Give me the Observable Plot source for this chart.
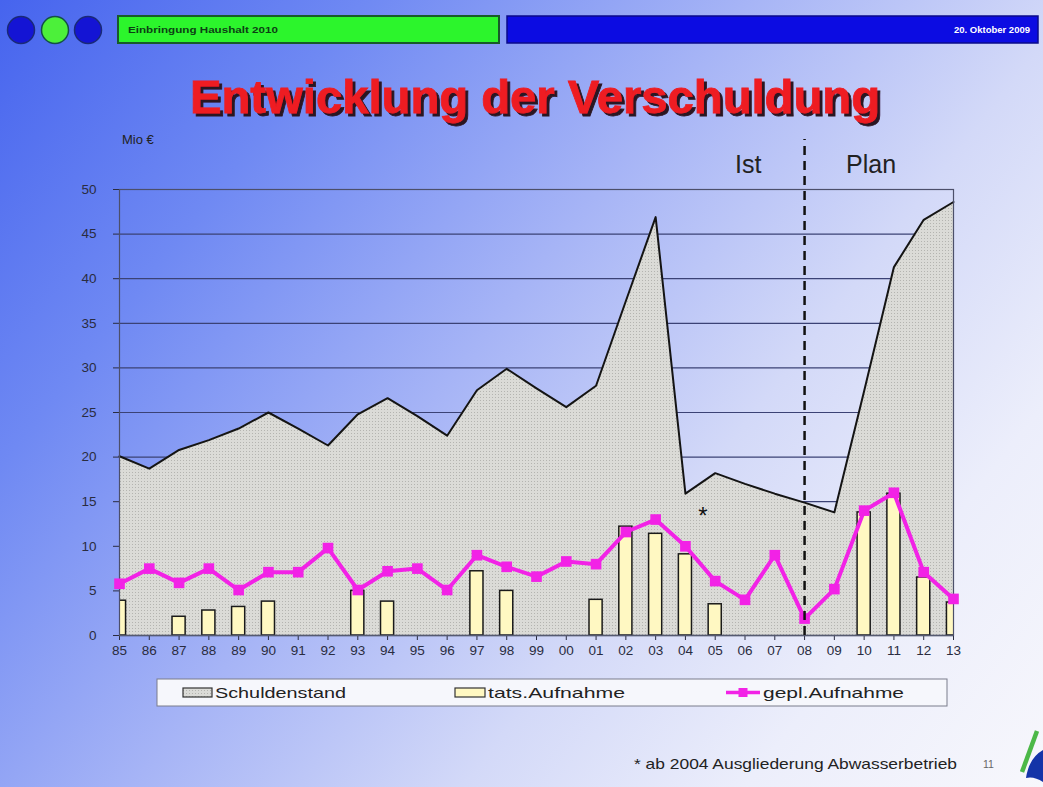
<!DOCTYPE html>
<html>
<head>
<meta charset="utf-8">
<script src="https://cdn.jsdelivr.net/npm/d3@7"></script>
<script src="https://cdn.jsdelivr.net/npm/@observablehq/plot@0.6"></script>
<style>
  html, body { margin: 0; padding: 0; }
  body {
    width: 1043px; height: 787px; overflow: hidden;
    background: linear-gradient(128deg, #4664ee 0%, #6f89f3 22%, #a6b4f6 45%, #d3d9f8 65%, #eceefb 82%, #f7f7fc 100%);
    font-family: "Liberation Sans", Arial, sans-serif;
  }
  #page { position: relative; width: 1043px; height: 787px; }
  #chart { position: absolute; left: 0; top: 130px; }
  #deco { position: absolute; left: 0; top: 0; pointer-events: none; }
</style>
</head>
<body>
<div id="page">
  <div id="chart"></div>
  <svg id="deco" width="1043" height="787" xmlns="http://www.w3.org/2000/svg" font-family="Liberation Sans, Arial, sans-serif">
    <defs>
      <pattern id="dots" width="3" height="3" patternUnits="userSpaceOnUse">
        <rect width="3" height="3" fill="#dbdbd7"></rect>
        <rect width="1" height="1" fill="#b4b4b0"></rect>
      </pattern>
      <filter id="shadow" x="-5%" y="-20%" width="110%" height="150%">
        <feDropShadow dx="3" dy="3" stdDeviation="0.6" flood-color="#2b1424" flood-opacity="1"></feDropShadow>
      </filter>
    </defs>
    <!-- header -->
    <circle cx="21" cy="30" r="13.5" fill="#1414d4" stroke="#1a2a78" stroke-width="1.5"></circle>
    <circle cx="55" cy="30" r="13.5" fill="#4cf03a" stroke="#145048" stroke-width="1.5"></circle>
    <circle cx="88" cy="30" r="13.5" fill="#1414d4" stroke="#1a2a78" stroke-width="1.5"></circle>
    <rect x="118" y="16" width="381" height="27" fill="#2cf52c" stroke="#185a2a" stroke-width="2"></rect>
    <text x="128" y="33" font-size="9.5" font-weight="bold" fill="#0c3f14" textLength="150" lengthAdjust="spacingAndGlyphs">Einbringung Haushalt 2010</text>
    <rect x="507" y="16" width="531" height="27" fill="#0c0ce2" stroke="#0a0a8a" stroke-width="1.5"></rect>
    <text x="1030" y="33" font-size="9.5" font-weight="bold" fill="#ffffff" text-anchor="end">20. Oktober 2009</text>
    <!-- title -->
    <text x="535" y="113" font-size="46" font-weight="bold" fill="#ee1c24" text-anchor="middle" textLength="690" lengthAdjust="spacingAndGlyphs" filter="url(#shadow)" stroke="#ee1c24" stroke-width="0.8">Entwicklung der Verschuldung</text>
    <!-- labels -->
    <text x="122" y="144" font-size="13" fill="#222">Mio €</text>
    <text x="735" y="173" font-size="25" fill="#222">Ist</text>
    <text x="846" y="173" font-size="25" fill="#222">Plan</text>
    <text x="703" y="524" font-size="24" fill="#111" text-anchor="middle">*</text>
    <!-- legend -->
    <g id="legend"></g>
    <!-- footnote -->
    <text x="634" y="769" font-size="14.5" fill="#222" textLength="323" lengthAdjust="spacingAndGlyphs">* ab 2004 Ausgliederung Abwasserbetrieb</text>
    <text x="983" y="768" font-size="10.5" fill="#666">11</text>
    <!-- logo -->
    <path d="M1026,778 Q1029,758 1043,750 L1043,782 Q1034,776 1026,778 Z" fill="#1434a8"></path>
    <line x1="1022" y1="772" x2="1037" y2="731" stroke="#4cb848" stroke-width="4.5"></line>
  </svg>
</div>
<script>
// ---- data ----
const years = ["85","86","87","88","89","90","91","92","93","94","95","96","97","98","99",
               "00","01","02","03","04","05","06","07","08","09","10","11","12","13"];
const schuldenstand = [20.1, 18.7, 20.8, 21.9, 23.2, 25.0, 23.2, 21.3, 24.8, 26.6, 24.6, 22.4, 27.5, 29.9, 27.7,
                       25.6, 28.0, 37.5, 46.9, 15.9, 18.2, 17.0, 15.9, 14.9, 13.8, 27.4, 41.3, 46.6, 48.6];
const tatsAufnahme = [3.9, null, 2.1, 2.8, 3.2, 3.8, null, null, 5.0, 3.8, null, null, 7.2, 5.0, null,
                      null, 4.0, 12.2, 11.4, 9.1, 3.5, null, null, null, null, 13.8, 15.9, 6.5, 3.7];
const geplAufnahme = [5.8, 7.5, 5.9, 7.5, 5.1, 7.1, 7.1, 9.8, 5.1, 7.2, 7.5, 5.1, 9.0, 7.7, 6.6,
                      8.3, 8.0, 11.6, 13.0, 10.0, 6.1, 4.0, 9.0, 1.9, 5.2, 14.0, 16.0, 7.1, 4.1];
const yTicks = [0, 5, 10, 15, 20, 25, 30, 35, 40, 45, 50];
const seriesNames = ["Schuldenstand", "tats.Aufnahme", "gepl.Aufnahme"];
const splitYear = "08";

const rows = years.map((year, i) => ({i, year, schuld: schuldenstand[i], tats: tatsAufnahme[i], gepl: geplAufnahme[i]}));
const bars = rows.filter(d => d.tats != null);

const MAGENTA = "#f222e6";

const chart = Plot.plot({
  width: 1043,
  height: 540,
  marginLeft: 119,
  marginRight: 90,
  marginTop: 59,
  marginBottom: 35,
  style: {
    background: "transparent",
    overflow: "visible",
    fontSize: "13.5px",
    fontFamily: "Liberation Sans, Arial, sans-serif",
    color: "#2a2c40"
  },
  x: {
    domain: [0, years.length - 1],
    ticks: d3.range(years.length),
    tickFormat: i => years[i],
    tickSize: 5,
    tickPadding: 5,
    label: null
  },
  y: {
    domain: [0, 50],
    ticks: yTicks,
    tickSize: 6,
    tickPadding: 17,
    label: null
  },
  marks: [
    Plot.ruleY(yTicks.filter(v => v > 0), {stroke: "#3b4275", strokeWidth: 1.2}),
    Plot.areaY(rows, {x: "i", y: "schuld", fill: "url(#dots)"}),
    Plot.lineY(rows, {x: "i", y: "schuld", stroke: "#141414", strokeWidth: 2}),
    Plot.rectY(bars, {x1: d => d.i - 0.22, x2: d => d.i + 0.22, y: "tats", fill: "#fff8c2", stroke: "#1a1a1a", strokeWidth: 1.5, clip: true}),
    Plot.frame({stroke: "#4c4f6a", strokeWidth: 1.2}),
    Plot.ruleY([0], {stroke: "#555a70", strokeWidth: 1.5}),
    Plot.lineY(rows, {x: "i", y: "gepl", stroke: MAGENTA, strokeWidth: 4}),
    Plot.dot(rows, {x: "i", y: "gepl", symbol: "square", r: 6, fill: MAGENTA}),
    Plot.ruleX([years.indexOf(splitYear)], {y1: 0, y2: 55.6, stroke: "#111", strokeWidth: 2.5, strokeDasharray: "9,6"})
  ]
});
document.getElementById("chart").appendChild(chart);

// ---- legend (drawn from the series names) ----
const ns = "http://www.w3.org/2000/svg";
const lg = document.getElementById("legend");
function el(tag, attrs, text) {
  const e = document.createElementNS(ns, tag);
  for (const k in attrs) e.setAttribute(k, attrs[k]);
  if (text) e.textContent = text;
  lg.appendChild(e);
  return e;
}
el("rect", {x: 157, y: 679, width: 790, height: 27, fill: "#f6f7fc", stroke: "#7a7c8c", "stroke-width": 1});
el("rect", {x: 183, y: 688, width: 29, height: 9, fill: "url(#dots)", stroke: "#333", "stroke-width": 1.2});
el("text", {x: 215, y: 698, "font-size": 14.5, fill: "#222", textLength: 131, lengthAdjust: "spacingAndGlyphs"}, seriesNames[0]);
el("rect", {x: 455, y: 688, width: 30, height: 9, fill: "#fff8c2", stroke: "#333", "stroke-width": 1.2});
el("text", {x: 488, y: 698, "font-size": 14.5, fill: "#222", textLength: 137, lengthAdjust: "spacingAndGlyphs"}, seriesNames[1]);
el("line", {x1: 726, y1: 692.5, x2: 760, y2: 692.5, stroke: MAGENTA, "stroke-width": 3.5});
el("rect", {x: 738.5, y: 688, width: 9, height: 9, fill: MAGENTA});
el("text", {x: 763, y: 698, "font-size": 14.5, fill: "#222", textLength: 141, lengthAdjust: "spacingAndGlyphs"}, seriesNames[2]);
</script>
</body>
</html>
